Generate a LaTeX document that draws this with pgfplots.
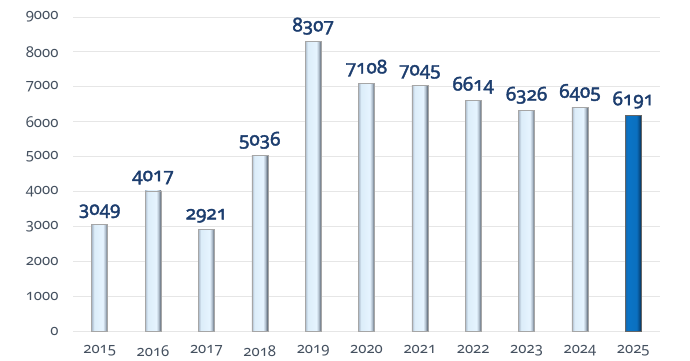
\documentclass[border=0pt]{standalone}
\usepackage{fontspec}
\setmainfont{Noto Sans}[Numbers=OldStyle]
\newfontfamily\lblfont{Noto Sans}[Numbers=OldStyle, FakeBold=2]
\usepackage{pgfplots}
\pgfplotsset{compat=1.18}
\definecolor{lbl}{HTML}{1C3D6E}
\definecolor{tickc}{HTML}{44505F}
\definecolor{gridc}{HTML}{E6E6E6}
\definecolor{la}{HTML}{A9B8C9}
\definecolor{lb}{HTML}{DCEDF9}
\definecolor{lc}{HTML}{E6F4FF}
\definecolor{ld}{HTML}{B4C2D0}
\definecolor{le}{HTML}{505B69}
\definecolor{da}{HTML}{1A66A8}
\definecolor{db}{HTML}{0A74C6}
\definecolor{dc}{HTML}{0A70C0}
\definecolor{dd}{HTML}{085494}
\definecolor{de}{HTML}{072E52}
\pgfdeclarehorizontalshading{lightbar}{100bp}{color(0bp)=(la); color(25bp)=(la); color(33bp)=(lb); color(60bp)=(lc); color(67bp)=(ld); color(75bp)=(le); color(100bp)=(le)}
\pgfdeclarehorizontalshading{darkbar}{100bp}{color(0bp)=(da); color(25bp)=(da); color(33bp)=(db); color(60bp)=(dc); color(67bp)=(dd); color(75bp)=(de); color(100bp)=(de)}
\pgfplotsset{lightb/.style={draw=black!35, line width=0.4pt, shading=lightbar},
  darkb/.style={draw=black!60, line width=0.4pt, shading=darkbar}}
\begin{document}
\begin{tikzpicture}
\begin{axis}[
  scale only axis, width=587bp, height=314bp,
  xmin=-0.5, xmax=10.5, ymin=0, ymax=9000,
  ybar, bar width=16bp, bar shift=0pt,
  xtick={0,...,10},
  xticklabels={2015,2016,2017,2018,2019,2020,2021,2022,2023,2024,2025},
  ytick={0,1000,...,9000},
  ymajorgrids, grid style={draw=gridc, line width=0.8pt},
  axis line style={draw=none}, major tick length=0pt,
  tick label style={font=\fontsize{15}{17}\selectfont, color=tickc},
  yticklabel style={xshift=-11bp},
  xticklabel style={yshift=-11bp},
  /pgf/number format/assume math mode=true,
  /pgf/number format/1000 sep={},
  nodes near coords={\pgfmathprintnumber[assume math mode=true,1000 sep={}]{\pgfplotspointmeta}},
  nodes near coords style={font=\lblfont\fontsize{19}{21}\selectfont, color=lbl, anchor=south, yshift=3bp},
  clip=false,
]
\addplot[lightb] coordinates {(0,3049)};
\addplot[lightb] coordinates {(1,4017)};
\addplot[lightb] coordinates {(2,2921)};
\addplot[lightb] coordinates {(3,5036)};
\addplot[lightb] coordinates {(4,8307)};
\addplot[lightb] coordinates {(5,7108)};
\addplot[lightb] coordinates {(6,7045)};
\addplot[lightb] coordinates {(7,6614)};
\addplot[lightb] coordinates {(8,6326)};
\addplot[lightb] coordinates {(9,6405)};
\addplot[darkb] coordinates {(10,6191)};
\end{axis}
\path (-73bp,-30bp) rectangle (617bp,331bp);
\end{tikzpicture}
\end{document}
